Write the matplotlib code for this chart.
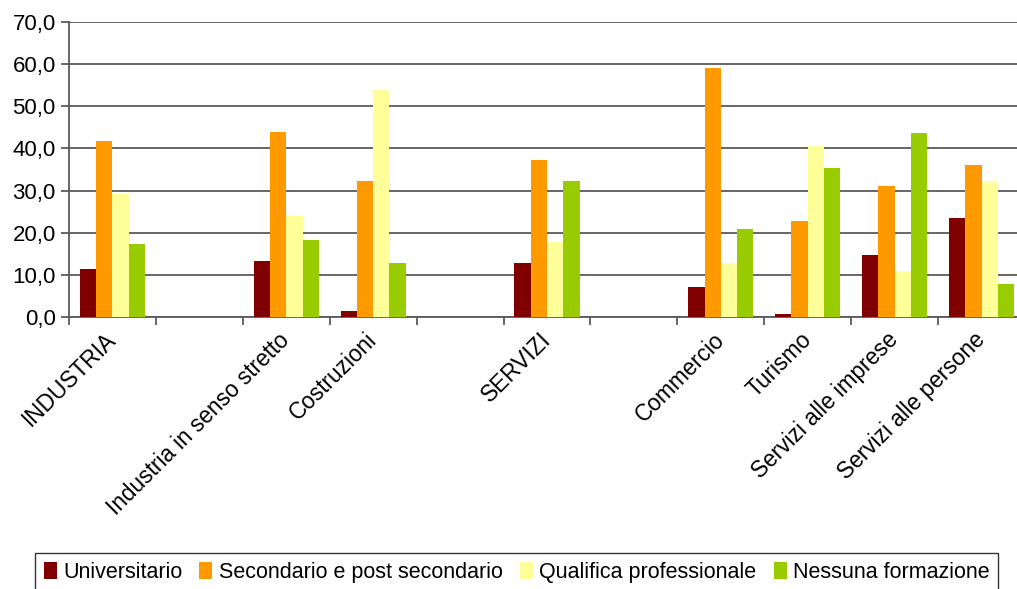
import numpy as np
import matplotlib.pyplot as plt
from matplotlib.ticker import FuncFormatter, MultipleLocator

plt.rcParams['font.family'] = ['Liberation Sans', 'DejaVu Sans']

# Settori (le posizioni vuote separano i gruppi)
settori = ['INDUSTRIA', '', 'Industria in senso stretto', 'Costruzioni', '',
           'SERVIZI', '', 'Commercio', 'Turismo', 'Servizi alle imprese',
           'Servizi alle persone']

nan = np.nan
universitario = [11.4, nan, 13.3, 1.4, nan, 12.8, nan, 7.1, 0.7, 14.7, 23.5]
secondario = [41.8, nan, 43.9, 32.3, nan, 37.3, nan, 59.1, 22.8, 31.1, 36.1]
qualifica = [29.3, nan, 24.0, 53.9, nan, 17.8, nan, 12.8, 40.6, 10.9, 32.3]
nessuna = [17.3, nan, 18.3, 12.8, nan, 32.3, nan, 20.9, 35.4, 43.7, 7.8]

serie = {
    'Universitario': (universitario, '#800000'),
    'Secondario e post secondario': (secondario, '#FF9900'),
    'Qualifica professionale': (qualifica, '#FFFF99'),
    'Nessuna formazione': (nessuna, '#99CC00'),
}

fig = plt.figure(figsize=(10.17, 5.89), dpi=100)
ax = fig.add_axes([69 / 1017, 1 - 317 / 589, 956 / 1017, 295 / 589])

x = np.arange(len(settori))
w = 0.1875
for i, (nome, (valori, colore)) in enumerate(serie.items()):
    ax.bar(x + (i - 1.5) * w, valori, width=w, color=colore, label=nome, zorder=3)

ax.set_xlim(-0.5, len(settori) - 0.5)
ax.set_ylim(0, 70)
ax.yaxis.set_major_locator(MultipleLocator(10))
ax.yaxis.set_major_formatter(FuncFormatter(lambda v, p: f'{v:.1f}'.replace('.', ',')))
ax.grid(axis='y', color='#5a5a5a', linewidth=1.3, zorder=0)

for s in ['top', 'right']:
    ax.spines[s].set_visible(False)
ax.spines['left'].set_color('#5a5a5a')
ax.spines['bottom'].set_color('#5a5a5a')
ax.spines['left'].set_linewidth(1.3)
ax.spines['bottom'].set_linewidth(1.3)

ax.set_xticks(x)
ax.set_xticklabels(settori, rotation=45, ha='right', va='center', rotation_mode='anchor')
ax.set_xticks(np.arange(-0.5, len(settori)), minor=True)
ax.tick_params(axis='x', which='major', length=0, pad=14, labelsize=16.3)
ax.tick_params(axis='x', which='minor', length=6, color='#5a5a5a', width=1.3)
ax.tick_params(axis='y', length=6, color='#5a5a5a', width=1.3, labelsize=16)

leg = fig.legend(loc='upper left', bbox_to_anchor=(35 / 1017, 1 - 553 / 589),
                 ncol=4, fontsize=15.5, frameon=True, fancybox=False,
                 edgecolor='black', handlelength=0.6, handleheight=0.9,
                 handletextpad=0.3, columnspacing=0.8, borderpad=0.4,
                 borderaxespad=0)
leg.get_frame().set_linewidth(1.0)

fig.savefig('out.png', dpi=100)
